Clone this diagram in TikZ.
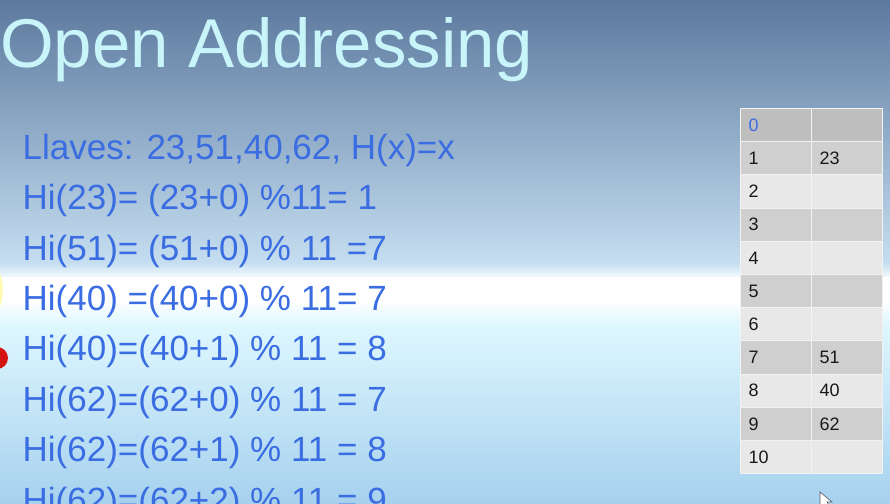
\documentclass[tikz,border=0pt]{standalone}
\usepackage{fontspec}
\setmainfont{Liberation Sans}
\usepackage{tikz}

\definecolor{skyTop}{RGB}{92,121,158}
\definecolor{skyLow}{RGB}{196,221,240}
\definecolor{horizon}{RGB}{244,251,254}
\definecolor{floorTop}{RGB}{222,247,254}
\definecolor{floorBot}{RGB}{166,209,238}
\definecolor{titleCyan}{RGB}{200,245,250}
\definecolor{slideBlue}{RGB}{58,108,226}
\definecolor{rowHead}{RGB}{190,190,190}
\definecolor{rowOdd}{RGB}{207,207,207}
\definecolor{rowEven}{RGB}{232,232,232}
\definecolor{ballRed}{RGB}{212,20,16}

\tikzset{
  slide title/.style={anchor=base west, inner sep=0pt, text=titleCyan, font=\fontsize{69}{80}\selectfont},
  hash line/.style={anchor=base west, inner sep=0pt, text=slideBlue, font=\fontsize{35}{40}\selectfont},
  cell/.style={anchor=north west, draw={rgb,255:red,242;green,242;blue,242}, line width=1pt,
    minimum width=71pt, minimum height=33.2pt, text width=55pt, inner xsep=8pt, inner ysep=0pt,
    align=left, text={rgb,255:red,25;green,25;blue,25}, font=\fontsize{18}{20}\selectfont},
}

\begin{document}
\begin{tikzpicture}[x=1pt,y=1pt,yscale=-1,xscale=1]
    \useasboundingbox (0,0) rectangle (890,503);
    \clip (0,0) rectangle (890,503);

    %Shape: Background sky
    \shade [top color=skyTop, bottom color=skyLow] (0,0) rectangle (890,262);
    \shade [top color=skyLow, bottom color=horizon] (0,262) rectangle (890,277.5);
    \fill [white] (0,277) rectangle (890,300);
    \shade [top color=white, bottom color=floorTop] (0,300) rectangle (890,325);
    \shade [top color=floorTop, bottom color=floorBot] (0,325) rectangle (890,503);
    %Shape: yellow edge and red ball at the left
    \fill [yellow!40!white, opacity=0.7] (-30,290) ellipse (33 and 40);
    \fill [ballRed] (-3,358) circle (11);

    % Text Node
    \node [slide title] (title) at (0,67.5) {Open Addressing};
    % Text Node
    \node [hash line] (keys) at (22.5,159.3) {Llaves: 23,51,40,62, H(x)=x};
    % Text Node
    \node [hash line] (h23) at (22.5,209.7) {Hi(23)= (23+0) \%11= 1};
    % Text Node
    \node [hash line] (h51) at (22.5,260.1) {Hi(51)= (51+0) \% 11 =7};
    % Text Node
    \node [hash line] (h40a) at (22.5,310.5) {Hi(40) =(40+0) \% 11= 7};
    % Text Node
    \node [hash line] (h40b) at (22.5,360.9) {Hi(40)=(40+1) \% 11 = 8};
    % Text Node
    \node [hash line] (h62a) at (22.5,411.3) {Hi(62)=(62+0) \% 11 = 7};
    % Text Node
    \node [hash line] (h62b) at (22.5,461.7) {Hi(62)=(62+1) \% 11 = 8};
    % Text Node
    \node [hash line] (h62c) at (22.5,512.1) {Hi(62)=(62+2) \% 11 = 9};

    %Shape: Table [index | key]
    \node [cell, fill=rowHead, text=slideBlue] (i0) at (740,108) {0};
    \node [cell, fill=rowHead] (k0) at (811,108) {};
    \node [cell, fill=rowOdd] (i1) at (740,141.2) {1};
    \node [cell, fill=rowOdd] (k1) at (811,141.2) {23};
    \node [cell, fill=rowEven] (i2) at (740,174.4) {2};
    \node [cell, fill=rowEven] (k2) at (811,174.4) {};
    \node [cell, fill=rowOdd] (i3) at (740,207.6) {3};
    \node [cell, fill=rowOdd] (k3) at (811,207.6) {};
    \node [cell, fill=rowEven] (i4) at (740,240.8) {4};
    \node [cell, fill=rowEven] (k4) at (811,240.8) {};
    \node [cell, fill=rowOdd] (i5) at (740,274) {5};
    \node [cell, fill=rowOdd] (k5) at (811,274) {};
    \node [cell, fill=rowEven] (i6) at (740,307.2) {6};
    \node [cell, fill=rowEven] (k6) at (811,307.2) {};
    \node [cell, fill=rowOdd] (i7) at (740,340.4) {7};
    \node [cell, fill=rowOdd] (k7) at (811,340.4) {51};
    \node [cell, fill=rowEven] (i8) at (740,373.6) {8};
    \node [cell, fill=rowEven] (k8) at (811,373.6) {40};
    \node [cell, fill=rowOdd] (i9) at (740,406.8) {9};
    \node [cell, fill=rowOdd] (k9) at (811,406.8) {62};
    \node [cell, fill=rowEven] (i10) at (740,440) {10};
    \node [cell, fill=rowEven] (k10) at (811,440) {};

    %Shape: mouse pointer
    \draw [fill=white, draw=gray!70!black, line width=0.6pt] (820,492) -- (820,508) -- (824,504) -- (828,511) -- (831,509) -- (827,502) -- (832,502) -- cycle ;

\end{tikzpicture}
\end{document}
